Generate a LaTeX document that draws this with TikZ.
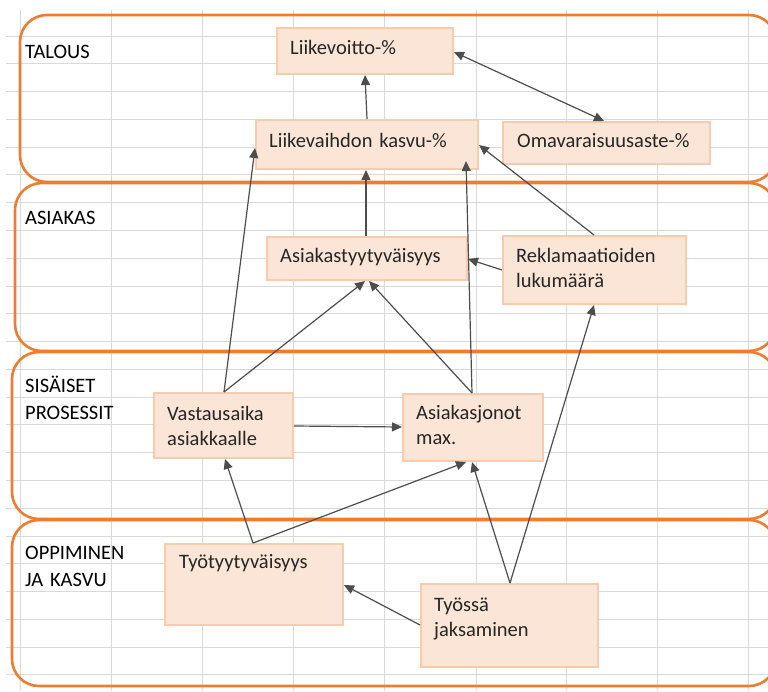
\documentclass[tikz,border=0pt]{standalone}
\usepackage{fontspec}
\setmainfont{Carlito}
\usetikzlibrary{arrows.meta}
\definecolor{gridc}{HTML}{D9D9D9}
\definecolor{bandc}{HTML}{ED7D31}
\definecolor{boxfill}{HTML}{FBE5D6}
\definecolor{boxdraw}{HTML}{F8CBAD}
\definecolor{arrc}{HTML}{4D4D4D}
\definecolor{txtc}{HTML}{262626}
\begin{document}
\begin{tikzpicture}[x=1pt,y=-1pt,
  gridline/.style={draw=gridc,line width=1pt},
  band/.style={draw=bandc,line width=2.6pt,rounded corners=27pt},
  kbox/.style={draw=boxdraw,fill=boxfill,line width=2pt,inner sep=0pt,anchor=north west},
  ktext/.style={anchor=base west,inner sep=0pt,text width=220pt,align=left,text=txtc,font=\fontsize{20.5}{25.5}\selectfont},
  blabel/.style={anchor=base west,inner sep=0pt,text width=150pt,align=left,text=black,font=\fontsize{20.5}{27.7}\selectfont},
  conn/.style={draw=arrc,line width=1.2pt,-{Triangle[length=10pt,width=9pt]}},
  conn2/.style={draw=arrc,line width=1.2pt,{Triangle[length=10pt,width=9pt]}-{Triangle[length=10pt,width=9pt]}},
]
\useasboundingbox (0,0) rectangle (768,691);
\clip (0,0) rectangle (768,691);
\fill[white] (0,0) rectangle (768,691);
% spreadsheet grid
\foreach \x in {20,111,202,293,384,476,566,657,748}
  \draw[gridline] (\x,10) -- (\x,691);
\foreach \k in {0,...,23}
  \draw[gridline] (6,36+27.78*\k) -- (768,36+27.78*\k);
% bands
\draw[band] (20,15) rectangle (776,182);
\draw[band] (15,183) rectangle (776,351);
\draw[band] (12,352) rectangle (776,519);
\draw[band] (12,520) rectangle (776,686);
\node[blabel] (lt) at (25,58) {TALOUS};
\node[blabel] (la) at (25,224) {ASIAKAS};
\node[blabel] (ls) at (25,392) {SISÄISET\\PROSESSIT};
\node[blabel] (lo) at (25,559) {OPPIMINEN\\JA KASVU};
% boxes
\node[kbox,minimum width=176pt,minimum height=46pt] (lv) at (276,27) {};
\node[kbox,minimum width=222pt,minimum height=49pt] (lk) at (255,119) {};
\node[kbox,minimum width=207pt,minimum height=42pt] (om) at (502,121) {};
\node[kbox,minimum width=200pt,minimum height=43pt] (at) at (266,236) {};
\node[kbox,minimum width=183pt,minimum height=68pt] (rk) at (502,235) {};
\node[kbox,minimum width=139pt,minimum height=65pt] (va) at (153,392) {};
\node[kbox,minimum width=140pt,minimum height=67pt] (aj) at (402,393) {};
\node[kbox,minimum width=178pt,minimum height=81pt] (tt) at (164,543) {};
\node[kbox,minimum width=177pt,minimum height=83pt] (tj) at (420,583) {};
% texts
\node[ktext] (lvt) at ([xshift=14pt,yshift=-27pt]lv.north west) {Liikevoitto-\%};
\node[ktext] (lkt) at ([xshift=14pt,yshift=-28pt]lk.north west) {Liikevaihdon kasvu-\%};
\node[ktext] (omt) at ([xshift=15pt,yshift=-26pt]om.north west) {Omavaraisuusaste-\%};
\node[ktext] (att) at ([xshift=14pt,yshift=-26pt]at.north west) {Asiakastyytyväisyys};
\node[ktext] (rkt) at ([xshift=14pt,yshift=-27pt]rk.north west) {Reklamaatioiden\\lukumäärä};
\node[ktext] (vat) at ([xshift=14pt,yshift=-28pt]va.north west) {Vastausaika\\asiakkaalle};
\node[ktext] (ajt) at ([xshift=14pt,yshift=-26pt]aj.north west) {Asiakasjonot\\max.};
\node[ktext] (ttt) at ([xshift=15pt,yshift=-25pt]tt.north west) {Työtyytyväisyys};
\node[ktext] (tjt) at ([xshift=14pt,yshift=-28pt]tj.north west) {Työssä\\jaksaminen};
% connectors
\draw[conn] ([xshift=112pt]lk.north west) -- ([xshift=89pt]lv.south west);
\draw[conn2] ([yshift=-25pt]lv.north east) -- ([xshift=102pt]om.north west);
\draw[conn] ([xshift=100pt]at.north west) -- ([xshift=111pt]lk.south west);
\draw[conn] ([xshift=71pt]va.north west) -- ([yshift=-29pt]lk.north west);
\draw[conn] ([xshift=71pt]va.north west) -- ([xshift=99pt]at.south west);
\draw[conn] ([xshift=70pt]aj.north west) -- ([xshift=103pt]at.south west);
\draw[conn] ([xshift=70pt]aj.north west) -- ([xshift=211pt,yshift=9pt]lk.south west);
\draw[conn] ([yshift=-35pt]rk.north west) -- ([yshift=-23pt]at.north east);
\draw[conn] ([xshift=92pt]rk.north west) -- ([yshift=-26pt]lk.north east);
\draw[conn] ([yshift=-34pt]va.north east) -- ([yshift=-34pt]aj.north west);
\draw[conn] ([xshift=89pt]tt.north west) -- ([xshift=72pt]va.south west);
\draw[conn] ([xshift=89pt]tt.north west) -- ([xshift=64pt]aj.south west);
\draw[conn] ([yshift=-42pt]tj.north west) -- ([yshift=-42pt]tt.north east);
\draw[conn] ([xshift=90pt]tj.north west) -- ([xshift=70pt]aj.south west);
\draw[conn] ([xshift=90pt]tj.north west) -- ([xshift=92pt]rk.south west);
\end{tikzpicture}
\end{document}
